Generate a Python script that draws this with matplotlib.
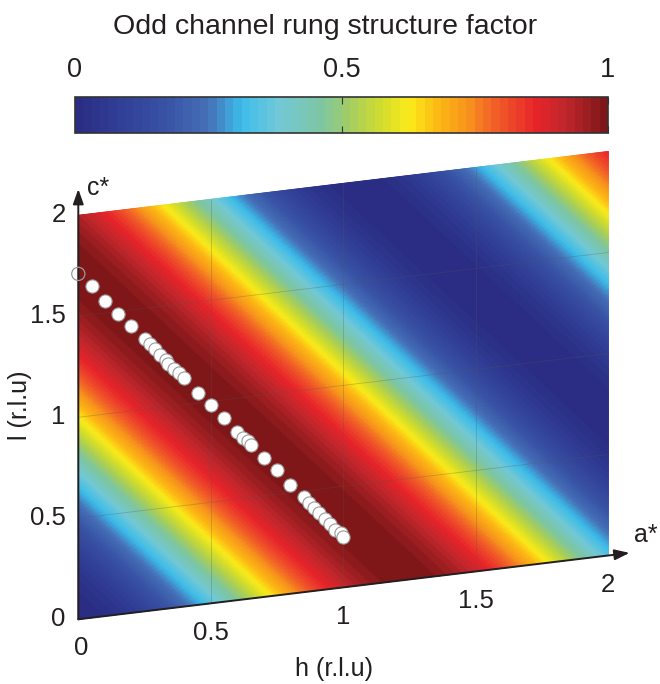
import numpy as np
import matplotlib
matplotlib.use('Agg')
import matplotlib.pyplot as plt
from matplotlib.colors import LinearSegmentedColormap, ListedColormap

#   fonts
plt.rcParams['font.family'] = ['Liberation Sans', 'DejaVu Sans']
text_color = '#231f20'

#   reciprocal lattice geometry (in units of |c*| on the page)
a_star = (1.312, 0.158)     # page vector of a* per r.l.u
c_star = (0.0, 1.0)         # page vector of c* per r.l.u

#   rung vector (fractional) used for the odd channel structure factor
rung_h = 0.40
rung_l = 0.29

#   plotted range
h_range = (0, 2)
l_range = (0, 2)

#   scan points (h, l)
scan_h = [0.00, 0.05, 0.10, 0.15, 0.20, 0.25, 0.27, 0.29, 0.31, 0.33, 0.34,
          0.36, 0.38, 0.40, 0.45, 0.50, 0.55, 0.60, 0.62, 0.64, 0.65, 0.70,
          0.75, 0.80, 0.85, 0.87, 0.89, 0.91, 0.93, 0.95, 0.97, 0.99, 1.00]
scan_l = [1.71, 1.64, 1.56, 1.49, 1.42, 1.35, 1.32, 1.29, 1.26, 1.23, 1.21,
          1.18, 1.16, 1.13, 1.05, 0.98, 0.91, 0.83, 0.80, 0.78, 0.76, 0.69,
          0.62, 0.54, 0.47, 0.44, 0.41, 0.38, 0.35, 0.32, 0.29, 0.27, 0.25]

#   ticks
h_ticks = [0, 0.5, 1, 1.5, 2]
l_ticks = [0, 0.5, 1, 1.5, 2]
cbar_ticks = [0, 0.5, 1]
tick_labels = ['0', '0.5', '1', '1.5', '2']
cbar_labels = ['0', '0.5', '1']

#   colour map (jet-like, as printed)
cmap_stops = [0.00, 0.08, 0.17, 0.25, 0.31, 0.38, 0.46, 0.52, 0.58,
              0.63, 0.68, 0.74, 0.80, 0.87, 0.93, 1.00]
cmap_colors = ['#2b2d84', '#313f97', '#3954a5', '#4673ba', '#3cbdea',
               '#72c8d7', '#7ec6a2', '#a6cd5f', '#d4de2c', '#fbec1a',
               '#fdbb14', '#f7941d', '#f15a29', '#e8242a', '#bd272c',
               '#7f1618']
smooth = LinearSegmentedColormap.from_list('printjet', list(zip(cmap_stops, cmap_colors)))
cmap = ListedColormap(smooth(np.linspace(0, 1, 64)))


def to_page(h, l):
    h = np.asarray(h, dtype=float)
    l = np.asarray(l, dtype=float)
    return h*a_star[0] + l*c_star[0], h*a_star[1] + l*c_star[1]


#   figure, one axes covering the whole page in |c*| units
W, H = 660, 684
scale = 202.0
ox, oy = 78.3, 684 - 619.3
fig = plt.figure(figsize=(W/100, H/100), dpi=100)
ax = fig.add_axes([0, 0, 1, 1])
ax.set_xlim(-ox/scale, (W - ox)/scale)
ax.set_ylim(-oy/scale, (H - oy)/scale)
ax.axis('off')

#   structure factor map
hh, ll = np.meshgrid(np.linspace(*h_range, 401), np.linspace(*l_range, 401))
sf = np.sin(np.pi*(rung_h*hh + rung_l*ll))**2
X, Y = to_page(hh, ll)
mesh = ax.pcolormesh(X, Y, sf, cmap=cmap, vmin=0, vmax=1,
                     shading='gouraud', rasterized=True)

#   grid lines
for g in h_ticks[1:-1]:
    x0, y0 = to_page(g, l_range[0])
    x1, y1 = to_page(g, l_range[1])
    ax.plot([x0, x1], [y0, y1], color='#555555', lw=0.6, alpha=0.3)
for g in l_ticks[1:-1]:
    x0, y0 = to_page(h_range[0], g)
    x1, y1 = to_page(h_range[1], g)
    ax.plot([x0, x1], [y0, y1], color='#555555', lw=0.6, alpha=0.3)

#   axes arrows
for end, name, off, va in [((2.08, 0), 'a*', (3, 4), 'bottom'),
                           ((0, 2.13), 'c*', (6, 1), 'center')]:
    ex, ey = to_page(*end)
    ax.annotate('', xy=(ex, ey), xytext=(0, 0),
                arrowprops=dict(arrowstyle='-|>,head_length=0.9,head_width=0.32',
                                color='#231f20', lw=1.4, shrinkA=0, shrinkB=0))
    ax.annotate(name, xy=(ex, ey), xytext=off, textcoords='offset points',
                fontsize=18, color=text_color, ha='left', va=va)

#   tick labels
for t, lab in zip(h_ticks, tick_labels):
    ax.annotate(lab, xy=to_page(t, 0), xytext=(2 if t == 0 else 0, -21),
                textcoords='offset points', fontsize=18.5, color=text_color,
                ha='center', va='center')
for t, lab in zip(l_ticks, tick_labels):
    ax.annotate(lab, xy=to_page(0, t), xytext=(-9, 0),
                textcoords='offset points', fontsize=18.5, color=text_color,
                ha='right', va='center')

#   axis labels
fig.text(334/W, 1 - 669/H, 'h (r.l.u)', fontsize=18, color=text_color,
         ha='center', va='center')
fig.text(20/W, 1 - 405/H, 'l (r.l.u)', fontsize=18, color=text_color,
         ha='center', va='center', rotation=90)

#   scan points
px, py = to_page(scan_h, scan_l)
ax.scatter(px[1:], py[1:], s=90, facecolor='white', edgecolor='#9a9a9a',
           linewidths=0.8, zorder=5)
ax.scatter(px[:1], py[:1], s=90, facecolor='none', edgecolor='#9a9a9a',
           linewidths=0.9, zorder=5)

#   colour bar
cax = fig.add_axes([75/W, 1 - 133/H, 533/W, 36/H])
cb = fig.colorbar(mesh, cax=cax, orientation='horizontal', ticks=cbar_ticks)
cb.ax.set_xticklabels(cbar_labels)
cb.ax.tick_params(top=True, bottom=True, labeltop=True, labelbottom=False,
                  direction='in', length=5, width=0.8, color='#333333',
                  labelsize=19.5, labelcolor=text_color, pad=10)
cb.outline.set_linewidth(1.2)
cb.outline.set_edgecolor('#333333')
fig.text(325/W, 1 - 27/H, 'Odd channel rung structure factor', fontsize=20.5,
         color=text_color, ha='center', va='center')

fig.savefig('out.png', dpi=100)
